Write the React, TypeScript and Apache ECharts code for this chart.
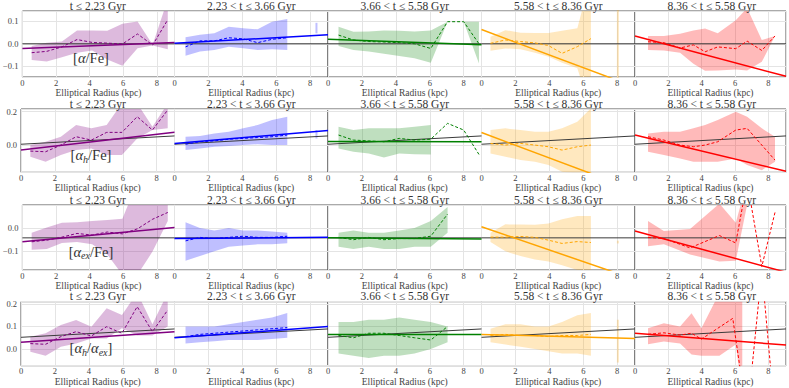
import React, { useEffect, useRef } from 'react';
import * as echarts from 'echarts';

const TITLES = ['t ≤ 2.23 Gyr', '2.23 < t ≤ 3.66 Gyr', '3.66 < t ≤ 5.58 Gyr', '5.58 < t ≤ 8.36 Gyr', '8.36 < t ≤ 5.58 Gyr'];
const COLORS = ['#800080', '#0000ff', '#008000', '#ffa500', '#ff0000'];
const BAND_COLORS = ['rgba(128,0,128,0.27)', 'rgba(0,0,255,0.25)', 'rgba(0,128,0,0.25)', 'rgba(255,165,0,0.25)', 'rgba(255,0,0,0.27)'];
const X_NAME = 'Elliptical Radius (kpc)';
const X_MAX = 9.05;
const X_TICK_STEP = 2;

// y-axis range / tick step of each row
const Y_MIN = [-0.149, -0.163, -0.18, -0.074];
const Y_MAX = [0.147, 0.216, 0.099, 0.21];
const Y_STEP = [0.1, 0.2, 0.1, 0.1];
const Y_SPLITNUM = [3, 2, 3, 3];

// global (black) linear fit of each row
const GLOBAL_A = [0.0, 0.005, -0.042, 0.052];
const GLOBAL_B = [0.0, 0.0055, 0.0, 0.0041];

// per-panel linear fits (intercept, slope) per row, columns 1..5
const FIT_A_R1 = [-0.021, 0.002, 0.02, 0.064, 0.035];
const FIT_B_R1 = [0.003, 0.0042, -0.0027, -0.0285, -0.02];
const FIT_A_R2 = [-0.03, 0.01, 0.022, 0.075, 0.06];
const FIT_B_R2 = [0.0118, 0.0085, -0.0003, -0.038, -0.024];
const FIT_A_R3 = [-0.059, -0.045, -0.042, 0.006, -0.013];
const FIT_B_R3 = [0.0068, 0.0006, -0.0005, -0.025, -0.0195];
const FIT_A_R4 = [0.03, 0.05, 0.065, 0.065, 0.07];
const FIT_B_R4 = [0.0052, 0.0055, 0.0, -0.002, -0.0058];

// radial bin centres
const X_C1 = [0.55, 1.45, 2.35, 3.25, 4.15, 5.05, 5.95, 6.85, 7.75, 8.65];
const X_C2 = [0.65, 1.5, 2.35, 3.2, 4.05, 4.9, 5.75, 6.65];
const X_C3 = [0.62, 1.5, 2.4, 3.3, 4.2, 5.1, 6.06, 7.05, 8.0, 8.9];
const X_C4 = [0.53, 1.41, 2.3, 3.15, 3.95, 4.75, 5.65, 6.45];
const X_C5 = [0.78, 1.73, 2.7, 3.5, 4.2, 4.96, 6.04, 6.72, 7.6, 8.39];

// ---- Row 1: [alpha/Fe]
const LO_11 = [-0.073, -0.08, -0.06, -0.04, -0.03, -0.07, -0.098, -0.02, -0.008, -0.025];
const HI_11 = [-0.01, 0.005, 0.01, 0.06, 0.06, 0.058, 0.09, 0.1, -0.004, 0.2];
const MED_11 = [-0.04, -0.034, -0.014, 0.019, 0.006, 0.003, -0.001, 0.044, -0.006, 0.108];
const LO_12 = [-0.054, -0.035, -0.028, -0.013, -0.02, -0.028, -0.025, -0.028];
const HI_12 = [0.029, 0.04, 0.047, 0.076, 0.07, 0.065, 0.099, 0.111];
const MED_12 = [-0.014, 0.013, 0.013, 0.027, 0.022, 0.005, 0.02, 0.027];
const LO_13 = [-0.01, -0.028, -0.035, -0.045, -0.055, -0.065, -0.085, 0.099, 0.099, -0.088];
const HI_13 = [0.076, 0.054, 0.055, 0.06, 0.058, 0.055, 0.06, 0.099, 0.099, 0.099];
const MED_13 = [0.039, 0.017, 0.01, 0.008, 0.005, 0.0, -0.021, 0.099, 0.099, 0.0];
const LO_14 = [-0.031, -0.021, -0.025, -0.04, -0.058, -0.085, -0.11, -0.3];
const HI_14 = [0.031, 0.061, 0.05, 0.048, 0.048, 0.058, 0.07, 0.3];
const MED_14 = [0.002, 0.017, 0.01, 0.004, -0.008, -0.043, -0.013, 0.023];
const LO_15 = [-0.028, -0.03, -0.04, -0.09, -0.121, -0.12, -0.115, -0.12, -0.081, 0.035];
const HI_15 = [0.035, 0.035, 0.045, 0.06, 0.069, 0.047, 0.106, 0.16, 0.017, 0.035];
const MED_15 = [0.009, 0.005, -0.019, -0.005, -0.036, -0.014, -0.022, 0.012, -0.03, 0.035];

// ---- Row 2: [alpha_h/Fe]
const LO_21 = [-0.07, -0.1, -0.06, -0.03, -0.02, -0.06, -0.06, 0.04, 0.09, 0.1];
const HI_21 = [0.0, 0.02, 0.05, 0.12, 0.1, 0.12, 0.25, 0.25, 0.11, 0.25];
const MED_21 = [-0.036, -0.04, 0.0, 0.05, 0.03, 0.076, 0.076, 0.17, 0.09, 0.21];
const LO_22 = [-0.03, -0.02, -0.01, -0.005, 0.0, 0.005, 0.0, 0.0];
const HI_22 = [0.05, 0.055, 0.07, 0.08, 0.1, 0.12, 0.15, 0.17];
const MED_22 = [0.005, 0.02, 0.025, 0.035, 0.04, 0.045, 0.05, 0.06];
const LO_23 = [-0.02, -0.04, -0.05, -0.075, -0.05, -0.055, -0.056];
const HI_23 = [0.11, 0.09, 0.1, 0.1, 0.1, 0.11, 0.12];
const MED_23 = [0.06, 0.03, 0.025, 0.02, 0.04, 0.03, 0.035, 0.13, 0.09, -0.056];
const LO_24 = [-0.05, -0.07, -0.09, -0.1, -0.12, -0.16, -0.17, -0.17];
const HI_24 = [0.09, 0.1, 0.09, 0.08, 0.08, 0.1, 0.14, 0.22];
const MED_24 = [0.01, 0.0, 0.01, 0.0, -0.01, -0.03, -0.01, 0.0];
const LO_25 = [-0.04, -0.06, -0.08, -0.1, -0.1, -0.1, -0.08, -0.12, -0.15, -0.1];
const HI_25 = [0.07, 0.08, 0.08, 0.1, 0.12, 0.15, 0.2, 0.17, 0.1, 0.05];
const MED_25 = [0.05, 0.03, 0.0, -0.01, 0.0, 0.02, 0.09, 0.1, 0.0, -0.09];

// ---- Row 3: [alpha_ex/Fe]
const LO_31 = [-0.093, -0.09, -0.064, -0.06, -0.07, -0.114, -0.2, -0.2, -0.1, 0.03];
const HI_31 = [-0.02, 0.002, 0.023, 0.025, 0.03, 0.035, 0.04, 0.2, 0.2, 0.11];
const MED_31 = [-0.059, -0.052, -0.039, -0.023, -0.03, -0.017, -0.025, -0.003, 0.038, 0.067];
const LO_32 = [-0.14, -0.12, -0.1, -0.08, -0.075, -0.07, -0.07, -0.065];
const HI_32 = [0.025, 0.0, -0.01, 0.0, -0.01, -0.01, -0.015, -0.02];
const MED_32 = [-0.055, -0.04, -0.045, -0.04, -0.035, -0.04, -0.04, -0.035];
const LO_33 = [-0.08, -0.09, -0.08, -0.09, -0.09, -0.08, -0.08, -0.02];
const HI_33 = [-0.02, -0.01, -0.02, -0.02, -0.01, 0.0, 0.03, 0.09];
const MED_33 = [-0.04, -0.05, -0.04, -0.05, -0.045, -0.045, -0.035, 0.06];
const LO_34 = [-0.06, -0.1, -0.12, -0.135, -0.143, -0.16, -0.18, -0.19];
const HI_34 = [-0.02, 0.016, 0.015, 0.014, 0.02, 0.038, 0.052, 0.052];
const MED_34 = [-0.039, -0.039, -0.036, -0.04, -0.052, -0.066, -0.058, -0.062];
const BX_35 = [0.78, 1.73, 3.3, 5.06, 6.04, 6.72];
const LO_35 = [-0.078, -0.07, -0.114, -0.143, -0.14, 0.1];
const HI_35 = [0.03, -0.013, -0.004, 0.105, 0.023, 0.2];
const MX_35 = [0.78, 1.73, 3.3, 5.06, 6.04, 6.72, 7.6, 8.39];
const MED_35 = [-0.04, -0.045, -0.085, -0.032, -0.064, 0.2, -0.165, 0.067];

// ---- Row 4: [alpha_h/alpha_ex]
const LO_41 = [-0.012, -0.03, 0.01, 0.025, 0.047, 0.047, 0.092, 0.06, 0.06, 0.1];
const HI_41 = [0.055, 0.07, 0.107, 0.129, 0.099, 0.181, 0.151, 0.25, 0.11, 0.25];
const MED_41 = [0.024, 0.021, 0.055, 0.077, 0.058, 0.099, 0.07, 0.188, 0.077, 0.173];
const LO_42 = [0.025, 0.03, 0.035, 0.04, 0.04, 0.04, 0.045, 0.05];
const HI_42 = [0.1, 0.1, 0.1, 0.11, 0.12, 0.13, 0.14, 0.16];
const MED_42 = [0.055, 0.065, 0.07, 0.075, 0.08, 0.085, 0.09, 0.095];
const LO_43 = [-0.02, -0.03, -0.04, -0.03, -0.03, -0.02, 0.0, 0.03];
const HI_43 = [0.12, 0.12, 0.13, 0.13, 0.14, 0.13, 0.12, 0.1];
const MED_43 = [0.06, 0.05, 0.07, 0.07, 0.06, 0.05, 0.04, 0.1];
const LO_44 = [0.03, 0.02, 0.01, 0.0, -0.01, -0.02, -0.02, -0.03];
const HI_44 = [0.09, 0.11, 0.11, 0.1, 0.1, 0.12, 0.15, 0.16];
const MED_44 = [0.06, 0.065, 0.06, 0.06, 0.055, 0.06, 0.06, 0.065];
const BX_45 = [0.78, 1.73, 2.7, 3.39, 3.98, 5.06, 6.04, 6.43];
const LO_45 = [0.021, 0.033, 0.025, -0.024, -0.03, -0.03, 0.02, -0.2];
const HI_45 = [0.092, 0.114, 0.1, 0.159, 0.092, 0.25, 0.25, 0.25];
const MX_45 = [0.78, 1.73, 2.7, 3.39, 3.98, 5.86, 6.72, 7.6, 8.39];
const MED_45 = [0.065, 0.072, 0.062, 0.07, 0.044, 0.136, -0.3, 0.35, -0.3];

// single-bin slivers: [row, col, x, lo, hi]
const SLIVER_ROW = [0, 0, 1, 2, 3];
const SLIVER_COL = [1, 3, 1, 3, 3];
const SLIVER_X = [8.37, 8.04, 8.37, 8.04, 8.04];
const SLIVER_LO = [0.047, -0.3, 0.04, -0.066, -0.06];
const SLIVER_HI = [0.094, 0.3, 0.09, -0.054, 0.13];

const ROW_LABELS = [
  '{n|[}{i|α}{n|/Fe]}',
  '{n|[}{i|α}{s|h}{n|/Fe]}',
  '{n|[}{i|α}{s|ex}{n|/Fe]}',
  '{n|[}{i|α}{s|h}{n|/}{i|α}{s|ex}{n|]}',
];

// layout
const ROW_TOP = [11, 109, 205, 301.7];
const ROW_H = [66, 63.3, 65, 64];
const LEFT0 = 21;
const COL_W = 153.5;
const LABEL_Y = [58, 155, 251.5, 348];
const LABEL_X = 91;

const FONT = "'Liberation Serif', 'DejaVu Serif', serif";

type Panel = { bx: number[]; lo: number[]; hi: number[]; mx: number[]; med: number[] };

function buildPanels(): Panel[][] {
  const P = (bx: number[], lo: number[], hi: number[], mx: number[], med: number[]): Panel => ({ bx, lo, hi, mx, med });
  return [
    [P(X_C1, LO_11, HI_11, X_C1, MED_11), P(X_C2, LO_12, HI_12, X_C2, MED_12), P(X_C3, LO_13, HI_13, X_C3, MED_13), P(X_C4, LO_14, HI_14, X_C4, MED_14), P(X_C5, LO_15, HI_15, X_C5, MED_15)],
    [P(X_C1, LO_21, HI_21, X_C1, MED_21), P(X_C2, LO_22, HI_22, X_C2, MED_22), P(X_C3.slice(0, 7), LO_23, HI_23, X_C3, MED_23), P(X_C4, LO_24, HI_24, X_C4, MED_24), P(X_C5, LO_25, HI_25, X_C5, MED_25)],
    [P(X_C1, LO_31, HI_31, X_C1, MED_31), P(X_C2, LO_32, HI_32, X_C2, MED_32), P(X_C3.slice(0, 8), LO_33, HI_33, X_C3.slice(0, 8), MED_33), P(X_C4, LO_34, HI_34, X_C4, MED_34), P(BX_35, LO_35, HI_35, MX_35, MED_35)],
    [P(X_C1, LO_41, HI_41, X_C1, MED_41), P(X_C2, LO_42, HI_42, X_C2, MED_42), P(X_C3.slice(0, 8), LO_43, HI_43, X_C3.slice(0, 8), MED_43), P(X_C4, LO_44, HI_44, X_C4, MED_44), P(BX_45, LO_45, HI_45, MX_45, MED_45)],
  ];
}

const FIT_A = [FIT_A_R1, FIT_A_R2, FIT_A_R3, FIT_A_R4];
const FIT_B = [FIT_B_R1, FIT_B_R2, FIT_B_R3, FIT_B_R4];

function fmtY(step: number) {
  return (v: number) => {
    const k = Math.round(v / step);
    if (Math.abs(v - k * step) > 1e-6) return '';
    const s = Math.abs(k * step).toFixed(1);
    return k < 0 ? '\u2212' + s : s;
  };
}
function fmtX(v: number) {
  const k = Math.round(v / X_TICK_STEP);
  if (Math.abs(v - k * X_TICK_STEP) > 1e-6) return '';
  return String(k * X_TICK_STEP);
}

function buildOption() {
  const panels = buildPanels();
  const grid: any[] = [];
  const xAxis: any[] = [];
  const yAxis: any[] = [];
  const series: any[] = [];
  const title: any[] = [];
  const graphic: any[] = [];

  for (let r = 0; r < 4; r++) {
    for (let c = 0; c < 5; c++) {
      const g = r * 5 + c;
      const left = LEFT0 + c * COL_W;
      grid.push({ left, top: ROW_TOP[r], width: COL_W, height: ROW_H[r], show: true, borderColor: '#555', borderWidth: 1, backgroundColor: 'transparent', containLabel: false });
      xAxis.push({
        gridIndex: g, type: 'value', min: 0, max: X_MAX, interval: X_TICK_STEP,
        axisLine: { show: false }, axisTick: { show: false },
        axisLabel: { fontSize: 8.5, lineHeight: 8, color: '#444', margin: 1.5, fontFamily: FONT, formatter: fmtX },
        splitLine: { show: true, lineStyle: { color: '#e4e4e4', width: 1 } },
        name: X_NAME, nameLocation: 'middle', nameGap: 9.5,
        nameTextStyle: { fontSize: 9.5, color: '#444', fontFamily: FONT, verticalAlign: 'top', lineHeight: 9.5 },
      });
      yAxis.push({
        gridIndex: g, type: 'value', min: Y_MIN[r], max: Y_MAX[r], splitNumber: Y_SPLITNUM[r],
        axisLine: { show: false }, axisTick: { show: false },
        axisLabel: { show: c === 0, fontSize: 8.5, color: '#444', margin: 4, fontFamily: FONT, formatter: fmtY(Y_STEP[r]) },
        splitLine: { show: true, lineStyle: { color: '#e4e4e4', width: 1 } },
      });
      title.push({
        text: TITLES[c], left: left + COL_W / 2, top: ROW_TOP[r] - 10.5, textAlign: 'center', padding: 0,
        textStyle: { fontSize: 11.5, fontWeight: 'normal', color: '#333', fontFamily: FONT, lineHeight: 10 },
      });

      const p = panels[r][c];
      const band = BAND_COLORS[c];
      series.push({
        type: 'custom', xAxisIndex: g, yAxisIndex: g, clip: true, silent: true, z: 1,
        data: [[p.bx[0], p.lo[0]]],
        renderItem: (_params: any, api: any) => {
          const pts: number[][] = [];
          for (let i = 0; i < p.bx.length; i++) pts.push(api.coord([p.bx[i], p.hi[i]]));
          for (let i = p.bx.length - 1; i >= 0; i--) pts.push(api.coord([p.bx[i], p.lo[i]]));
          return { type: 'polygon', shape: { points: pts }, style: { fill: band, stroke: 'none' } };
        },
      });
      // global fit (black)
      series.push({
        type: 'line', xAxisIndex: g, yAxisIndex: g, symbol: 'none', silent: true, z: 3,
        data: [[0, GLOBAL_A[r]], [X_MAX, GLOBAL_A[r] + GLOBAL_B[r] * X_MAX]],
        lineStyle: { color: '#3a3a3a', width: 1 },
      });
      // panel fit
      series.push({
        type: 'line', xAxisIndex: g, yAxisIndex: g, symbol: 'none', silent: true, z: 4,
        data: [[0, FIT_A[r][c]], [X_MAX, FIT_A[r][c] + FIT_B[r][c] * X_MAX]],
        lineStyle: { color: COLORS[c], width: 1.5 },
      });
      // running median (dashed)
      series.push({
        type: 'line', xAxisIndex: g, yAxisIndex: g, symbol: 'none', silent: true, z: 5,
        data: p.mx.map((x, i) => [x, p.med[i]]),
        lineStyle: { color: COLORS[c], width: 1, type: [3, 2] },
      });
    }
    graphic.push({
      type: 'text', x: LABEL_X, y: LABEL_Y[r], z: 100,
      style: {
        text: ROW_LABELS[r], align: 'center', verticalAlign: 'middle',
        rich: {
          n: { fontSize: 14.5, fontFamily: FONT, fill: '#333', lineHeight: 18 },
          i: { fontSize: 14.5, fontFamily: FONT, fontStyle: 'italic', fill: '#333', lineHeight: 18 },
          s: { fontSize: 10, fontFamily: FONT, fontStyle: 'italic', fill: '#333', lineHeight: 10, verticalAlign: 'bottom' },
        },
      },
    });
  }

  for (let k = 0; k < SLIVER_X.length; k++) {
    const g = SLIVER_ROW[k] * 5 + SLIVER_COL[k];
    series.push({
      type: 'line', xAxisIndex: g, yAxisIndex: g, symbol: 'none', silent: true, z: 1,
      data: [[SLIVER_X[k], SLIVER_LO[k]], [SLIVER_X[k], SLIVER_HI[k]]],
      lineStyle: { color: BAND_COLORS[SLIVER_COL[k]], width: 2 },
    });
  }

  return { animation: false, backgroundColor: '#ffffff', grid, xAxis, yAxis, title, series, graphic };
}

export default function App() {
  const ref = useRef<HTMLDivElement>(null);
  useEffect(() => {
    if (!ref.current) return;
    const chart = echarts.init(ref.current, undefined, { renderer: 'svg' });
    chart.setOption(buildOption() as any);
    return () => chart.dispose();
  }, []);
  return <div ref={ref} style={{ width: 789, height: 388, position: 'absolute', left: 0, top: 0 }} />;
}
